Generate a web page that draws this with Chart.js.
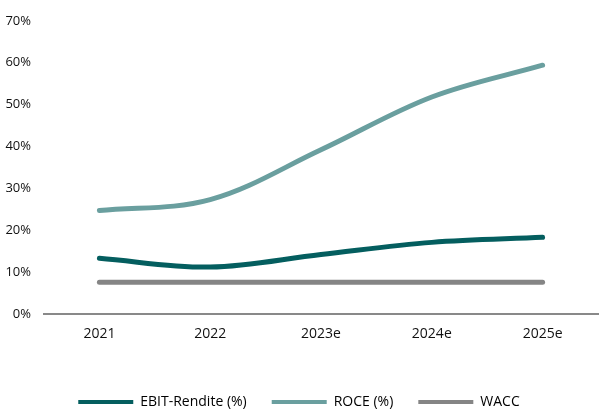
<!DOCTYPE html>
<html>
<head>
<meta charset="utf-8">
<script src="https://cdn.jsdelivr.net/npm/chart.js@4"></script>
<style>
  html, body { margin: 0; padding: 0; background: #fff; overflow: hidden; }
  #wrap { width: 608px; height: 413px; position: relative; }
</style>
</head>
<body>
<div id="wrap"><canvas id="kpiChart"></canvas></div>
<script>
const years = ['2021', '2022', '2023e', '2024e', '2025e'];
const ebitMargin = [13.3, 11.2, 14.2, 17.1, 18.3];
const roce = [24.7, 27.3, 39.2, 51.8, 59.4];
const wacc = [7.6, 7.6, 7.6, 7.6, 7.6];

Chart.defaults.font.family = "'Open Sans', 'Liberation Sans', sans-serif";
Chart.defaults.font.size = 14;
Chart.defaults.color = '#111';

const line = (label, data, color) => ({
    label,
    data,
    borderColor: color,
    backgroundColor: color,
    borderWidth: 5,
    borderCapStyle: 'round',
    pointRadius: 0,
    tension: 0.35,
    fill: false,
});

const ctx = document.getElementById('kpiChart').getContext('2d');
new Chart(ctx, {
    type: 'line',
    data: {
        labels: years,
        datasets: [
            line('EBIT-Rendite (%)', ebitMargin, '#045e5f'),
            line('ROCE (%)', roce, '#6a9f9f'),
            line('WACC', wacc, '#858585'),
        ],
    },
    options: {
        responsive: true,
        maintainAspectRatio: false,
        animation: false,
        layout: { padding: { top: 12, right: 10, left: 0, bottom: -6 } },
        plugins: {
            tooltip: { enabled: false },
            legend: {
                position: 'bottom',
                labels: {
                    boxWidth: 55,
                    boxHeight: 4,
                    padding: 25,
                    generateLabels(chart) {
                        return chart.data.datasets.map((ds, i) => ({
                            text: ds.label,
                            fillStyle: ds.borderColor,
                            strokeStyle: ds.borderColor,
                            lineWidth: 0,
                            hidden: false,
                            datasetIndex: i,
                        }));
                    },
                },
            },
        },
        scales: {
            x: {
                offset: true,
                grid: { display: false },
                border: { display: true, color: '#898989', width: 2 },
                ticks: { padding: 4 },
                afterFit(scale) { scale.height = 56; },
            },
            y: {
                min: 0,
                max: 70,
                grid: { display: false, drawTicks: false },
                border: { display: false },
                ticks: {
                    stepSize: 10,
                    padding: 13,
                    font: { size: 13 },
                    callback: (v) => v + '%',
                },
                afterFit(scale) { scale.width = 44; },
            },
        },
    },
});
</script>
</body>
</html>
